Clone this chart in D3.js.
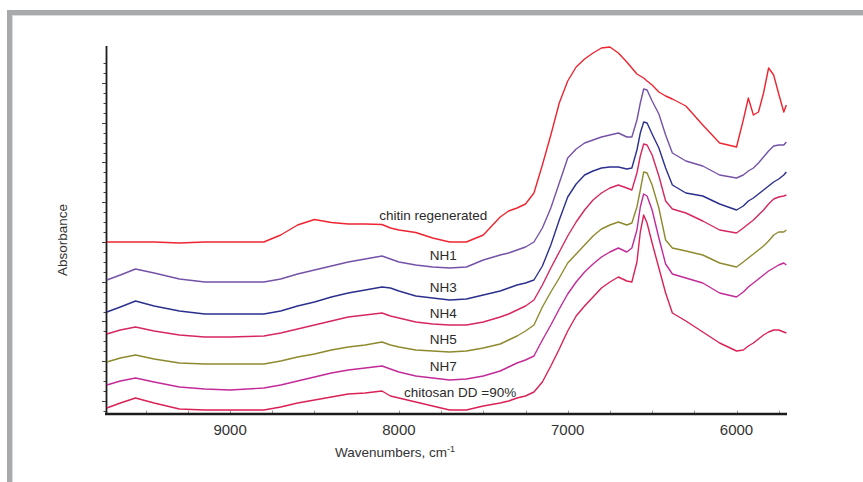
<!DOCTYPE html>
<html>
<head>
<meta charset="utf-8">
<script src="https://cdn.jsdelivr.net/npm/d3@7"></script>
<style>
  html, body { margin: 0; padding: 0; background: #fff; }
  svg { display: block; font-family: "Liberation Sans", Arial, sans-serif; }
</style>
</head>
<body>
<svg id="chart" width="863" height="482"></svg>
<script>
// ---- data ----
const wavenumbers = [9730, 9650, 9560, 9450, 9300, 9150, 9000, 8800, 8700, 8600,
  8500, 8400, 8300, 8200, 8100, 8050, 8000, 7900, 7800, 7700,
  7600, 7500, 7400, 7350, 7300, 7250, 7200, 7150, 7100, 7050,
  7000, 6950, 6900, 6850, 6800, 6750, 6700, 6650, 6620, 6590,
  6570, 6550, 6530, 6500, 6460, 6420, 6380, 6300, 6200, 6100,
  6000, 5960, 5930, 5900, 5870, 5840, 5810, 5780, 5750, 5720, 5705];

const chitinRegenerated = [1.71, 1.71, 1.71, 1.71, 1.70, 1.71, 1.71, 1.71, 1.78, 1.88,
  1.935, 1.905, 1.89, 1.89, 1.885, 1.85, 1.83, 1.805, 1.75, 1.71,
  1.71, 1.78, 1.96, 2.02, 2.05, 2.09, 2.20, 2.48, 2.78, 3.10,
  3.32, 3.46, 3.54, 3.60, 3.65, 3.66, 3.60, 3.51, 3.45, 3.39,
  3.37, 3.35, 3.32, 3.28, 3.21, 3.17, 3.14, 3.07, 2.88, 2.70,
  2.66, 2.93, 3.15, 2.98, 3.01, 3.20, 3.45, 3.38, 3.19, 3.01, 3.08];

const nh1 = [1.33, 1.38, 1.44, 1.40, 1.34, 1.31, 1.31, 1.31, 1.34, 1.39,
  1.43, 1.47, 1.51, 1.54, 1.57, 1.54, 1.51, 1.48, 1.46, 1.45,
  1.46, 1.53, 1.58, 1.60, 1.63, 1.66, 1.71, 1.85, 2.05, 2.30,
  2.55, 2.64, 2.70, 2.73, 2.76, 2.78, 2.80, 2.76, 2.76, 2.93,
  3.10, 3.24, 3.23, 3.12, 2.99, 2.78, 2.60, 2.52, 2.47, 2.38,
  2.35, 2.38, 2.42, 2.45, 2.50, 2.56, 2.62, 2.67, 2.68, 2.68, 2.71];

const nh3 = [1.01, 1.06, 1.12, 1.07, 1.02, 0.99, 0.99, 0.99, 1.02, 1.07,
  1.11, 1.16, 1.20, 1.23, 1.26, 1.25, 1.22, 1.17, 1.15, 1.13,
  1.14, 1.18, 1.22, 1.25, 1.28, 1.30, 1.33, 1.47, 1.68, 1.93,
  2.16, 2.29, 2.38, 2.42, 2.45, 2.46, 2.46, 2.44, 2.45, 2.63,
  2.80, 2.91, 2.90, 2.79, 2.65, 2.45, 2.28, 2.20, 2.17, 2.09,
  2.03, 2.07, 2.12, 2.15, 2.19, 2.23, 2.27, 2.31, 2.34, 2.38, 2.41];

const nh4 = [0.79, 0.83, 0.86, 0.82, 0.78, 0.76, 0.76, 0.77, 0.80, 0.84,
  0.88, 0.92, 0.96, 0.98, 1.00, 0.97, 0.95, 0.91, 0.89, 0.88,
  0.88, 0.91, 0.96, 0.99, 1.03, 1.07, 1.13, 1.28, 1.45, 1.61,
  1.77, 1.91, 2.03, 2.13, 2.20, 2.25, 2.28, 2.25, 2.23, 2.40,
  2.57, 2.69, 2.68, 2.58, 2.37, 2.12, 2.04, 2.00, 1.92, 1.83,
  1.80, 1.85, 1.89, 1.93, 1.98, 2.03, 2.09, 2.14, 2.16, 2.17, 2.18];

const nh5 = [0.51, 0.55, 0.58, 0.54, 0.50, 0.49, 0.49, 0.49, 0.52, 0.56,
  0.59, 0.63, 0.66, 0.68, 0.71, 0.68, 0.66, 0.63, 0.62, 0.61,
  0.62, 0.65, 0.69, 0.73, 0.77, 0.82, 0.88, 1.06, 1.21, 1.35,
  1.50, 1.59, 1.68, 1.77, 1.84, 1.88, 1.91, 1.88, 1.90, 2.06,
  2.23, 2.41, 2.40, 2.28, 2.05, 1.73, 1.65, 1.62, 1.58, 1.50,
  1.46, 1.51, 1.55, 1.59, 1.63, 1.67, 1.72, 1.78, 1.81, 1.81, 1.83];

const nh7 = [0.28, 0.32, 0.35, 0.31, 0.26, 0.24, 0.23, 0.25, 0.28, 0.32,
  0.36, 0.40, 0.43, 0.45, 0.47, 0.44, 0.41, 0.37, 0.35, 0.33,
  0.34, 0.37, 0.42, 0.46, 0.50, 0.53, 0.57, 0.73, 0.88, 1.04,
  1.19, 1.31, 1.41, 1.49, 1.56, 1.61, 1.65, 1.61, 1.65, 1.83,
  2.06, 2.19, 2.17, 2.03, 1.75, 1.49, 1.39, 1.35, 1.30, 1.20,
  1.16, 1.21, 1.26, 1.30, 1.34, 1.38, 1.42, 1.45, 1.48, 1.50, 1.48];

const chitosanDD90 = [0.05, 0.10, 0.15, 0.10, 0.04, 0.03, 0.03, 0.03, 0.06, 0.10,
  0.13, 0.16, 0.19, 0.20, 0.22, 0.17, 0.15, 0.11, 0.07, 0.03,
  0.03, 0.07, 0.10, 0.12, 0.15, 0.17, 0.21, 0.31, 0.47, 0.64,
  0.82, 0.97, 1.07, 1.16, 1.25, 1.31, 1.36, 1.32, 1.31, 1.51,
  1.81, 1.98, 1.90, 1.70, 1.45, 1.20, 1.00, 0.92, 0.81, 0.70,
  0.62, 0.63, 0.67, 0.70, 0.74, 0.78, 0.81, 0.83, 0.83, 0.81, 0.80];

const seriesNames = ["chitin regenerated", "NH1", "NH3", "NH4", "NH5", "NH7", "chitosan DD =90%"];
const seriesValues = [chitinRegenerated, nh1, nh3, nh4, nh5, nh7, chitosanDD90];
const xTickLabels = [9000, 8000, 7000, 6000];
const xAxisTitle = "Wavenumbers, cm";
const xAxisTitleSup = "-1";
const yAxisTitle = "Absorbance";

// ---- presentation ----
const colors = ["#ee2430", "#7352a8", "#2b2f8e", "#d6275f", "#8d8a2e", "#c22a98", "#da2156"];
// label anchor points (wavenumber, absorbance of text baseline)
const labelAnchors = [[7797, 1.935], [7737, 1.534], [7737, 1.214], [7737, 0.954], [7737, 0.694], [7737, 0.424], [7637, 0.164]];

const svg = d3.select("#chart");

// page frame
svg.append("rect").attr("x", 7).attr("y", 10).attr("width", 856).attr("height", 5).attr("fill", "#a8a9ab");
svg.append("rect").attr("x", 7).attr("y", 10).attr("width", 5).attr("height", 472).attr("fill", "#a8a9ab");
svg.append("rect").attr("x", 12).attr("y", 15).attr("width", 851).attr("height", 1).attr("fill", "#dcdcde");
svg.append("rect").attr("x", 12).attr("y", 15).attr("width", 1).attr("height", 467).attr("fill", "#dcdcde");

const x = d3.scaleLinear().domain([9735, 5704]).range([106, 786.5]);
const y = d3.scaleLinear().domain([0, 3.66]).range([413, 47]);

// y ticks (unlabelled)
const yTicks = d3.range(0.0206, 3.56, 0.0994);
const yAxis = svg.append("g");
yAxis.selectAll("line.yt").data(yTicks).join("line")
  .attr("class", "yt")
  .attr("x1", (d, i) => (i - 1) % 4 === 0 ? 102 : 103.5)
  .attr("x2", 106)
  .attr("y1", d => Math.round(y(d)) + 0.5)
  .attr("y2", d => Math.round(y(d)) + 0.5)
  .attr("stroke", "#444").attr("stroke-width", 1);
yAxis.append("line").attr("x1", 106.5).attr("x2", 106.5).attr("y1", 46).attr("y2", 414)
  .attr("stroke", "#1c1c1c").attr("stroke-width", 1.8);

// x axis
const xMinorTicks = d3.range(9500, 5700, -250);
const xAxisG = svg.append("g");
xAxisG.selectAll("line.xt").data(xMinorTicks).join("line")
  .attr("class", "xt")
  .attr("x1", d => Math.round(x(d)) + 0.5).attr("x2", d => Math.round(x(d)) + 0.5)
  .attr("y1", 410.5).attr("y2", 413)
  .attr("stroke", "#9a9a9a").attr("stroke-width", 1);
xAxisG.append("line").attr("x1", 105).attr("x2", 787).attr("y1", 414).attr("y2", 414)
  .attr("stroke", "#1c1c1c").attr("stroke-width", 2.6);
xAxisG.selectAll("text.xl").data(xTickLabels).join("text")
  .attr("class", "xl")
  .attr("x", d => x(d)).attr("y", 435)
  .attr("text-anchor", "middle")
  .attr("font-size", 15).attr("fill", "#333")
  .text(d => d);

const xt = svg.append("text").attr("x", 395).attr("y", 457).attr("text-anchor", "middle")
  .attr("font-size", 13.5).attr("fill", "#333");
xt.append("tspan").text(xAxisTitle);
xt.append("tspan").attr("font-size", 9).attr("dy", -5).text(xAxisTitleSup);

svg.append("text").attr("transform", "translate(67,240) rotate(-90)")
  .attr("text-anchor", "middle").attr("font-size", 13.5).attr("fill", "#333").text(yAxisTitle);

// spectra
const line = d3.line().x(d => x(d[0])).y(d => y(d[1]));
seriesValues.forEach((vals, i) => {
  const pts = wavenumbers.map((w, j) => [w, vals[j]]);
  svg.append("path").datum(pts).attr("d", line)
    .attr("fill", "none").attr("stroke", colors[i]).attr("stroke-width", 1.4)
    .attr("stroke-linejoin", "round");
});

// labels
svg.selectAll("text.lbl").data(seriesNames).join("text")
  .attr("class", "lbl")
  .attr("x", (d, i) => x(labelAnchors[i][0]))
  .attr("y", (d, i) => y(labelAnchors[i][1]))
  .attr("text-anchor", "middle")
  .attr("font-size", 13.5).attr("fill", "#2a2a2a")
  .text(d => d);
</script>
</body>
</html>
